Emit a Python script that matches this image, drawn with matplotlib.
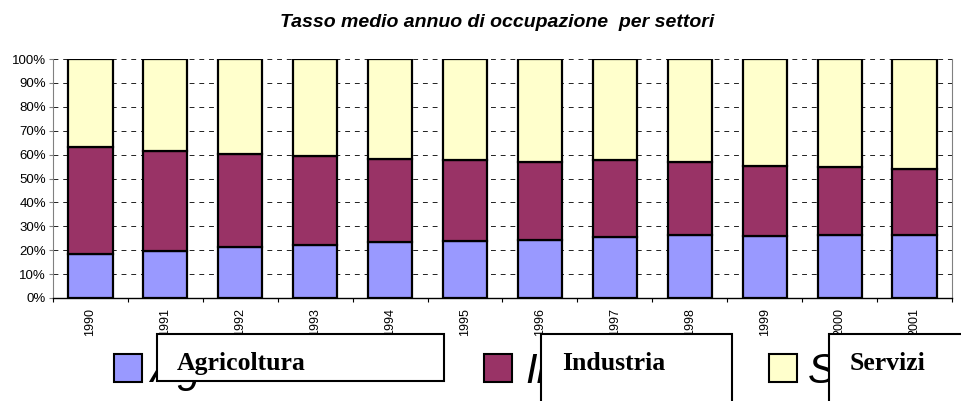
import matplotlib
matplotlib.use("Agg")
import matplotlib.pyplot as plt
from matplotlib.patches import Rectangle
from matplotlib.ticker import FixedLocator, PercentFormatter

years = ["1990", "1991", "1992", "1993", "1994", "1995",
         "1996", "1997", "1998", "1999", "2000", "2001"]
agricoltura = [18.4, 19.8, 21.2, 22.0, 23.4, 24.0, 24.4, 25.5, 26.2, 25.8, 26.2, 26.5]
industria = [44.9, 41.6, 39.1, 37.3, 34.9, 33.6, 32.5, 32.1, 30.6, 29.3, 28.5, 27.6]
servizi = [36.7, 38.6, 39.7, 40.7, 41.7, 42.4, 43.1, 42.4, 43.2, 44.9, 45.3, 45.9]
labels = ["Agricoltura", "Industria", "Servizi"]
colors = ["#9999FF", "#993366", "#FFFFCC"]

W, H = 962, 401
fig = plt.figure(figsize=(W / 100, H / 100), dpi=100)
ax = fig.add_axes([53 / W, 1 - 298 / H, (952 - 53) / W, (298 - 59) / H])

x = range(len(years))
bottom = [0] * len(years)
for vals, col in zip([agricoltura, industria, servizi], colors):
    ax.bar(x, vals, width=0.59, bottom=bottom, color=col,
           edgecolor="black", linewidth=1.6, zorder=3)
    bottom = [b + v for b, v in zip(bottom, vals)]

ax.set_xlim(-0.5, len(years) - 0.5)
ax.set_ylim(0, 100)
ax.yaxis.set_major_locator(FixedLocator(range(0, 101, 10)))
ax.yaxis.set_major_formatter(PercentFormatter(decimals=0))
ax.grid(axis="y", color="#222222", linestyle=(0, (5, 5)), linewidth=0.7, zorder=0)

ax.set_xticks(list(x))
ax.set_xticklabels(years, rotation=90, fontsize=9, family="Liberation Sans",
                   va="top")
ax.xaxis.set_minor_locator(FixedLocator([i - 0.5 for i in range(len(years) + 1)]))
ax.tick_params(axis="x", which="major", length=0, pad=7)
ax.tick_params(axis="x", which="minor", length=3, width=0.8, color="black",
               direction="out")
ax.tick_params(axis="y", length=3, width=0.8, color="#808080", pad=2,
               labelsize=9.5)
for t in ax.get_yticklabels():
    t.set_family("Liberation Sans")

ax.spines["top"].set_visible(False)
ax.spines["left"].set_color("#808080")
ax.spines["right"].set_color("#808080")
ax.spines["bottom"].set_color("black")
ax.spines["bottom"].set_linewidth(1.0)

fig.text(497 / W, 1 - 27 / H, "Tasso medio annuo di occupazione  per settori",
         ha="center", va="baseline", fontsize=14, fontweight="bold",
         fontstyle="italic", family="Liberation Sans")

# legend drawn like the original: marker squares, large italic text,
# white boxes with serif labels on top
marker_x = [114, 484, 769]
big_x = [150, 525, 808]
big_y = [382, 383, 383]
boxes = [(157, 444), (541, 732), (829, 990)]
box_bottom = [381, 430, 430]
text_x = [177, 562, 850]

for i, lab in enumerate(labels):
    fig.patches.append(Rectangle((marker_x[i] / W, 1 - 382 / H), 28 / W, 28 / H,
                                 transform=fig.transFigure, facecolor=colors[i],
                                 edgecolor="black", linewidth=1.5, zorder=2))
    fig.text(big_x[i] / W, 1 - big_y[i] / H, lab, fontsize=30,
             fontstyle="italic", family="Liberation Sans", va="baseline",
             ha="left", zorder=3)
    x0, x1 = boxes[i]
    fig.patches.append(Rectangle((x0 / W, 1 - box_bottom[i] / H), (x1 - x0) / W,
                                 (box_bottom[i] - 334) / H,
                                 transform=fig.transFigure, facecolor="white",
                                 edgecolor="black", linewidth=1.5, zorder=4))
    fig.text(text_x[i] / W, 1 - 370 / H, lab, fontsize=18.5, fontweight="bold",
             family="Liberation Serif", va="baseline", ha="left", zorder=5)

fig.savefig("out.png", dpi=100)
